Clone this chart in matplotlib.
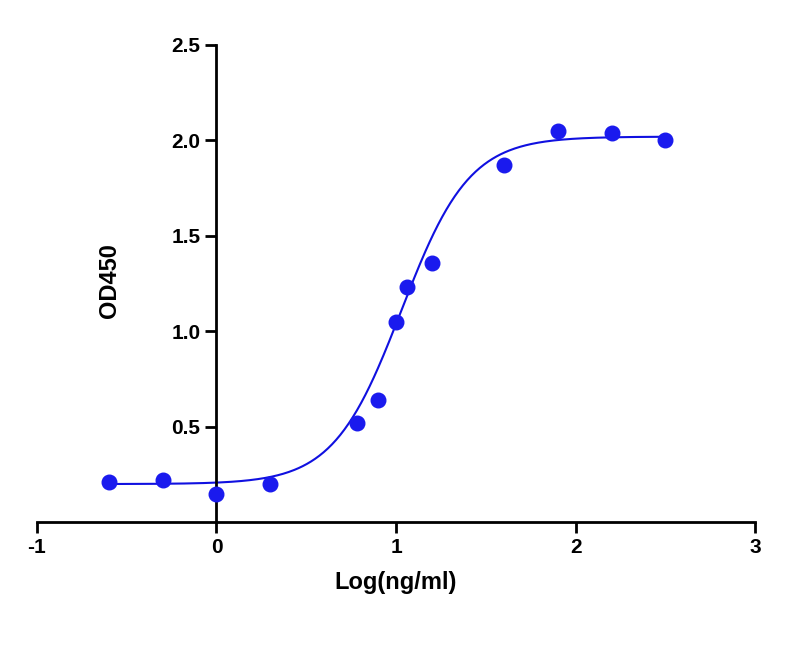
import numpy as np
import matplotlib
matplotlib.use("Agg")
import matplotlib.pyplot as plt

plt.rcParams["font.family"] = "Liberation Sans"
plt.rcParams["axes.unicode_minus"] = False

log_conc = [-0.6, -0.3, 0.0, 0.3, 0.78, 0.9, 1.0, 1.06, 1.2, 1.6, 1.9, 2.2, 2.5]
od450 = [0.21, 0.22, 0.15, 0.20, 0.52, 0.64, 1.05, 1.23, 1.36, 1.87, 2.05, 2.04, 2.0]
# 4PL fit parameters
bottom, top, log_ec50, hill = 0.20, 2.02, 1.03, 2.3
x_ticks = [-1, 0, 1, 2, 3]
y_ticks = [0.5, 1.0, 1.5, 2.0, 2.5]

fig = plt.figure(figsize=(7.85, 6.52), dpi=100)
ax = fig.add_axes([0.047, 0.199, 0.915, 0.732])
xs = np.linspace(min(log_conc), max(log_conc), 400)
ys = bottom + (top - bottom) / (1 + 10 ** ((log_ec50 - xs) * hill))
ax.plot(xs, ys, color="#1010e0", lw=1.5)
ax.scatter(log_conc, od450, s=110, color="#1a1aee", zorder=3)
ax.set_xlim(-1, 3)
ax.set_ylim(0, 2.5)
ax.spines["left"].set_position(("data", 0))
for s in ["top", "right"]:
    ax.spines[s].set_visible(False)
for s in ["left", "bottom"]:
    ax.spines[s].set_linewidth(2)
ax.set_xticks(x_ticks)
ax.set_yticks(y_ticks)
ax.set_yticklabels([f"{v:.1f}" for v in y_ticks])
ax.tick_params(width=2, length=8, labelsize=15)
for lab in ax.get_xticklabels() + ax.get_yticklabels():
    lab.set_fontweight("bold")
ax.set_xlabel("Log(ng/ml)", fontsize=17, fontweight="bold", labelpad=10)
fig.text(0.14, 0.57, "OD450", rotation=90, fontsize=17, fontweight="bold", ha="center", va="center")
fig.savefig("out.png", dpi=100)
